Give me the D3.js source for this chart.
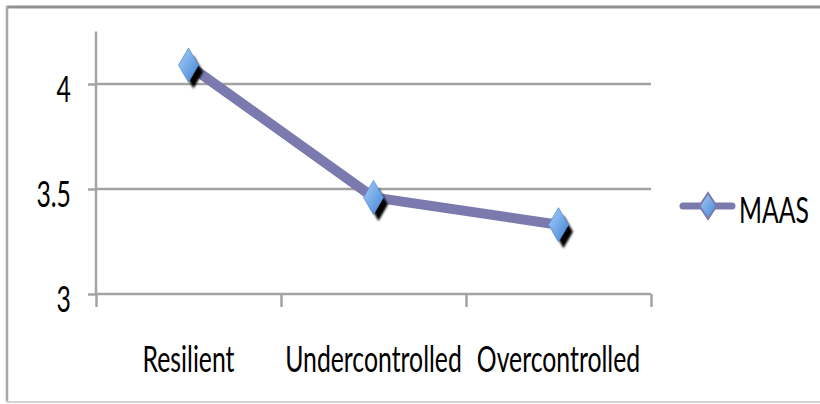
<!DOCTYPE html>
<html><head><meta charset="utf-8">
<script src="https://cdn.jsdelivr.net/npm/d3@7"></script>
<style>body{margin:0;background:#fff}svg{display:block}</style>
</head><body>
<svg id="c" width="820" height="404"></svg>
<script>
const categories = ["Resilient", "Undercontrolled", "Overcontrolled"];
const seriesName = "MAAS";
const maasValues = [4.09, 3.46, 3.33];
const yTicks = [3, 3.5, 4];
const yTickLabels = ["3", "3.5", "4"];

const svg = d3.select("#c");
const FONT = "Lato, 'Open Sans', sans-serif";
const FS = 37, SX = 0.67;

const x = d3.scaleBand().domain(categories).range([96, 651]).padding(0);
const y = d3.scaleLinear().domain([3, 4.25]).range([294, 31.5]);
const cx = d => x(d) + x.bandwidth() / 2;

// outer frame
svg.append("line").attr("x1", 7).attr("x2", 820).attr("y1", 7).attr("y2", 7).attr("stroke", "#909090").attr("stroke-width", 3);
svg.append("line").attr("x1", 7).attr("x2", 7).attr("y1", 6).attr("y2", 402).attr("stroke", "#a8a8a8").attr("stroke-width", 2.5);
svg.append("line").attr("x1", 6).attr("x2", 820).attr("y1", 402).attr("y2", 402).attr("stroke", "#d4d4d4").attr("stroke-width", 2);

const gridColor = "#a3a3a3";
svg.append("g").selectAll("line").data(yTicks.filter(t => t !== 3)).join("line")
  .attr("x1", 96).attr("x2", 651).attr("y1", d => y(d)).attr("y2", d => y(d))
  .attr("stroke", gridColor).attr("stroke-width", 2.5);

// y axis
const yAxis = d3.axisLeft(y).tickValues(yTicks).tickSize(8).tickFormat((d, i) => yTickLabels[i]);
const gy = svg.append("g").attr("transform", "translate(96,0)").call(yAxis);
gy.select(".domain").attr("d", `M0,${y(4.25)}V${y(3) + 1}`).attr("stroke", gridColor).attr("stroke-width", 2.5);
gy.selectAll(".tick line").attr("stroke", gridColor).attr("stroke-width", 2.5);
gy.selectAll(".tick text").attr("x", 0).attr("dy", 0).attr("fill", "#000")
  .attr("transform", `translate(-25,17) scale(${SX},1)`)
  .style("font-family", FONT).style("font-size", FS + "px").attr("text-anchor", "end");

// x axis
const xAxis = d3.axisBottom(d3.scaleLinear().domain([0, 3]).range([96, 651])).tickValues([0, 1, 2, 3]).tickSize(13).tickFormat("");
const gx = svg.append("g").attr("transform", `translate(0,${y(3)})`).call(xAxis);
gx.select(".domain").attr("d", "M96,0H651").attr("stroke", gridColor).attr("stroke-width", 2.5);
gx.selectAll(".tick line").attr("stroke", gridColor).attr("stroke-width", 2.5);

// category labels
svg.append("g").selectAll("text").data(categories).join("text")
  .attr("transform", d => `translate(${cx(d)},372) scale(${SX},1)`).attr("text-anchor", "middle")
  .style("font-family", FONT).style("font-size", FS + "px").attr("fill", "#000").text(d => d);

const defs = svg.append("defs");
const grad = defs.append("linearGradient").attr("id", "dg").attr("x1", 0).attr("y1", 0).attr("x2", 1).attr("y2", 1);
grad.append("stop").attr("offset", "0%").attr("stop-color", "#a9cdf5");
grad.append("stop").attr("offset", "55%").attr("stop-color", "#6fa6e6");
grad.append("stop").attr("offset", "100%").attr("stop-color", "#3f7fcf");
defs.append("filter").attr("id", "bl").append("feGaussianBlur").attr("stdDeviation", 1);

const lineColor = "#7a7aae";
const pts = categories.map((c, i) => [cx(c), y(maasValues[i])]);
svg.append("path").attr("d", d3.line()(pts)).attr("fill", "none")
  .attr("stroke", lineColor).attr("stroke-width", 10).attr("stroke-linejoin", "round");

const diamond = (w, h) => `M0,${-h/2}L${w/2},0L0,${h/2}L${-w/2},0Z`;
const mk = svg.append("g").selectAll("g").data(pts).join("g").attr("transform", d => `translate(${d[0]},${d[1]})`);
mk.append("path").attr("d", diamond(19, 33)).attr("transform", "translate(5,7)").attr("fill", "#000").attr("filter", "url(#bl)");
mk.append("path").attr("d", diamond(20, 34)).attr("fill", "url(#dg)").attr("stroke", "#5b8fd6").attr("stroke-width", 0.8);

// legend
const lg = svg.append("g");
lg.append("line").attr("x1", 683).attr("x2", 732).attr("y1", 206).attr("y2", 206)
  .attr("stroke", lineColor).attr("stroke-width", 7).attr("stroke-linecap", "round");
lg.append("path").attr("d", diamond(17, 26)).attr("transform", "translate(708,206)")
  .attr("fill", "url(#dg)").attr("stroke", lineColor).attr("stroke-width", 2);
lg.append("text").attr("transform", `translate(739,223) scale(${SX},1)`)
  .style("font-family", FONT).style("font-size", FS + "px").attr("fill", "#000").text(seriesName);
</script>
</body></html>
